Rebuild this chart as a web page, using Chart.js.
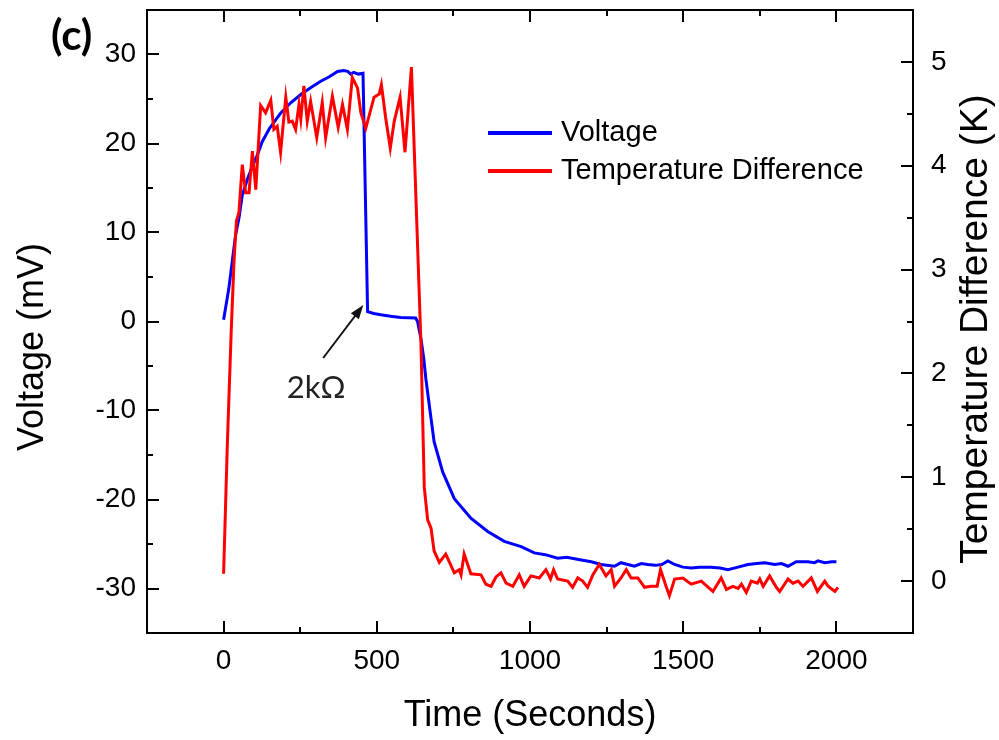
<!DOCTYPE html>
<html lang="en">
<head>
<meta charset="UTF-8">
<title>Voltage and Temperature Difference</title>
<script src="https://cdn.jsdelivr.net/npm/chart.js"></script>
<style>
  html, body { margin: 0; padding: 0; background: #fff; }
  #wrap { width: 999px; height: 740px; position: relative; }
</style>
</head>
<body>
<div id="wrap"><canvas id="chart"></canvas></div>
<script>
// Voltage (mV), left axis
const voltageTime = [0, 17, 28, 39, 50, 61, 80, 95, 110, 126, 150, 186, 220, 252, 285, 317, 345, 372, 392, 405, 415, 425, 440, 455,
  470, 490, 513, 545, 578, 627, 633, 644, 653, 660, 674, 687, 715, 753, 807, 862, 916, 971, 1014, 1050, 1090, 1120, 1167, 1200,
  1232, 1276, 1297, 1319, 1341, 1363, 1384, 1410, 1430, 1450, 1472, 1499, 1526, 1553, 1591, 1620, 1646, 1679, 1711, 1740, 1766,
  1799, 1821, 1842, 1869, 1907, 1929, 1940, 1962, 1985, 2000];
const voltageValues = [0.2, 3.7, 6.7, 9.7, 11.6, 14.2, 16.2, 17.5, 18.7, 20.2, 21.7, 23.4, 24.6, 25.5, 26.3, 27.0, 27.5, 28.1, 28.2, 28.1, 27.8, 28.0, 27.8, 27.9,
  1.1, 0.9, 0.75, 0.6, 0.45, 0.4, 0.0, -1.9, -4.1, -6.4, -10.1, -13.5, -16.9, -19.9, -22.1, -23.6, -24.7, -25.3, -26.0, -26.2, -26.6, -26.5, -26.8, -27.0,
  -27.3, -27.5, -27.1, -27.3, -27.5, -27.2, -27.3, -27.4, -27.3, -26.9, -27.3, -27.6, -27.7, -27.6, -27.6, -27.7, -27.9, -27.6, -27.3, -27.2, -27.1,
  -27.3, -27.2, -27.5, -27.0, -27.0, -27.1, -26.9, -27.1, -27.0, -27.0];

// Temperature Difference (K), right axis
const tempTime = [0, 12, 25, 34, 42, 50, 61, 72, 83, 94, 105, 121, 137, 154, 164, 175, 186, 203, 213, 224, 235, 246, 252, 262, 273,
  284, 304, 322, 333, 355, 374, 388, 404, 420, 437, 448, 464, 491, 508, 515, 529, 544, 557, 576, 592, 613, 644, 655, 666, 677,
  687, 704, 725, 753, 769, 775, 785, 807, 840, 856, 873, 889, 905, 922, 944, 965, 981, 1003, 1030, 1052, 1067, 1077, 1090, 1123,
  1139, 1156, 1172, 1188, 1205, 1226, 1248, 1265, 1276, 1297, 1314, 1330, 1352, 1374, 1395, 1415, 1426, 1444, 1455, 1472, 1499,
  1526, 1559, 1597, 1624, 1641, 1662, 1679, 1690, 1706, 1722, 1742, 1750, 1761, 1782, 1804, 1815, 1842, 1858, 1875, 1891, 1918,
  1938, 1962, 1973, 1995, 2005];
const tempValues = [0.07, 1.3, 2.42, 3.08, 3.47, 3.55, 4.01, 3.74, 3.74, 4.14, 3.77, 4.58, 4.51, 4.63, 4.35, 4.38, 4.13, 4.66, 4.42, 4.43, 4.35, 4.59, 4.45, 4.77, 4.43,
  4.62, 4.27, 4.61, 4.27, 4.67, 4.37, 4.59, 4.35, 4.85, 4.75, 4.51, 4.36, 4.66, 4.69, 4.78, 4.46, 4.17, 4.43, 4.66, 4.13, 4.95, 2.3, 0.9, 0.59, 0.51,
  0.29, 0.18, 0.26, 0.08, 0.11, 0.06, 0.26, 0.07, 0.06, -0.03, -0.05, 0.04, 0.08, -0.02, -0.05, 0.06, -0.05, 0.05, 0.03, 0.11, 0.02, 0.11, 0.02, 0.0,
  -0.06, 0.03, 0.0, -0.06, 0.06, 0.16, 0.05, 0.11, -0.05, 0.03, 0.11, 0.03, 0.03, -0.06, -0.05, -0.05, 0.11, -0.05, -0.14, 0.02, 0.03,
  -0.03, 0.0, -0.10, 0.03, -0.08, -0.05, -0.07, -0.03, -0.11, 0.0, -0.02, 0.02, -0.05, 0.05, -0.06, -0.10, 0.02, -0.02, 0.0, -0.05, 0.03,
  -0.10, 0.0, -0.05, -0.10, -0.06];

// tick marks
const xTicks = [0, 500, 1000, 1500, 2000];
const xMinor = [250, 750, 1250, 1750];
const voltTicks = [-30, -20, -10, 0, 10, 20, 30];
const voltMinor = [-25, -15, -5, 5, 15, 25];
const tempTicks = [0, 1, 2, 3, 4, 5];
const tempMinor = [0.5, 1.5, 2.5, 3.5, 4.5];

const FONT = '"Liberation Sans", Arial, sans-serif';

const toPoints = (xs, ys) => xs.map((x, i) => ({x: x, y: ys[i]}));

// no auto padding from labels, fixed box sizes
const fixBox = size => s => {
    if (s.isHorizontal()) { s.height = size; } else { s.width = size; }
    s.paddingTop = 0; s.paddingBottom = 0; s.paddingLeft = 0; s.paddingRight = 0;
};

// frame, inward ticks, y titles, legend, annotation
const decorations = {
    id: 'decorations',
    afterDraw(chart) {
        const {ctx, chartArea: a, scales} = chart;
        ctx.save();
        ctx.strokeStyle = '#000';
        ctx.lineWidth = 2;
        ctx.strokeRect(a.left, a.top, a.right - a.left, a.bottom - a.top);

        ctx.beginPath();
        const xt = (v, len) => {
            const px = Math.round(scales.x.getPixelForValue(v));
            ctx.moveTo(px, a.bottom); ctx.lineTo(px, a.bottom - len);
            ctx.moveTo(px, a.top); ctx.lineTo(px, a.top + len);
        };
        xTicks.forEach(v => xt(v, 12));
        xMinor.forEach(v => xt(v, 6));
        const lt = (v, len) => {
            const py = Math.round(scales.y.getPixelForValue(v));
            ctx.moveTo(a.left, py); ctx.lineTo(a.left + len, py);
        };
        voltTicks.forEach(v => lt(v, 12));
        voltMinor.forEach(v => lt(v, 6));
        const rt = (v, len) => {
            const py = Math.round(scales.y2.getPixelForValue(v));
            ctx.moveTo(a.right, py); ctx.lineTo(a.right - len, py);
        };
        tempTicks.forEach(v => rt(v, 12));
        tempMinor.forEach(v => rt(v, 6));
        ctx.stroke();

        // y axis titles, both read upward
        ctx.fillStyle = '#000';
        ctx.textAlign = 'center';
        ctx.textBaseline = 'middle';
        [['Voltage (mV)', 33, 347, 36], ['Temperature Difference (K)', 976, 329, 39]].forEach(([t, x, y, size]) => {
            ctx.save();
            ctx.font = size + 'px ' + FONT;
            ctx.translate(x, y);
            ctx.rotate(-Math.PI / 2);
            ctx.fillText(t, 0, 0);
            ctx.restore();
        });

        // legend
        ctx.textAlign = 'left';
        ctx.font = '29px ' + FONT;
        chart.data.datasets.forEach((ds, i) => {
            const y = 133 + i * 38;
            ctx.strokeStyle = ds.borderColor;
            ctx.lineWidth = 4;
            ctx.beginPath();
            ctx.moveTo(488, y); ctx.lineTo(552, y);
            ctx.stroke();
            ctx.fillText(ds.label, 561, y);
        });

        // panel label
        ctx.font = 'bold 42px Lato, sans-serif';
        ctx.fillText('(c)', 51, 36);

        // 2kOhm annotation
        const X = scales.x, Y = scales.y;
        const tx = X.getPixelForValue(325), ty = Y.getPixelForValue(-4.1);
        const hx = X.getPixelForValue(456), hy = Y.getPixelForValue(1.85);
        const ang = Math.atan2(hy - ty, hx - tx);
        ctx.strokeStyle = '#111';
        ctx.fillStyle = '#111';
        ctx.lineWidth = 2;
        ctx.beginPath();
        ctx.moveTo(tx, ty);
        ctx.lineTo(hx - 10 * Math.cos(ang), hy - 10 * Math.sin(ang));
        ctx.stroke();
        ctx.beginPath();
        ctx.moveTo(hx, hy);
        ctx.lineTo(hx - 14 * Math.cos(ang) + 5 * Math.sin(ang), hy - 14 * Math.sin(ang) - 5 * Math.cos(ang));
        ctx.lineTo(hx - 14 * Math.cos(ang) - 5 * Math.sin(ang), hy - 14 * Math.sin(ang) + 5 * Math.cos(ang));
        ctx.closePath();
        ctx.fill();
        ctx.fillStyle = '#222';
        ctx.font = '31px Lato, sans-serif';
        ctx.textAlign = 'center';
        ctx.fillText('2kΩ', X.getPixelForValue(302), Y.getPixelForValue(-7.5));
        ctx.restore();
    }
};

const plainLabel = v => String(v);

new Chart(document.getElementById('chart'), {
    type: 'line',
    data: {
        datasets: [
            {
                label: 'Voltage',
                data: toPoints(voltageTime, voltageValues),
                yAxisID: 'y',
                borderColor: '#0000ff',
                borderWidth: 3,
                pointRadius: 0,
                tension: 0,
                order: 2
            },
            {
                label: 'Temperature Difference',
                data: toPoints(tempTime, tempValues),
                yAxisID: 'y2',
                borderColor: '#ff0000',
                borderWidth: 3,
                pointRadius: 0,
                tension: 0,
                order: 1
            }
        ]
    },
    options: {
        responsive: true,
        maintainAspectRatio: false,
        animation: false,
        devicePixelRatio: 1,
        layout: { padding: { top: 10, left: 0, right: 0, bottom: 0 } },
        plugins: { legend: { display: false }, tooltip: { enabled: false } },
        scales: {
            x: {
                type: 'linear',
                min: -250,
                max: 2250,
                afterBuildTicks: s => { s.ticks = xTicks.map(v => ({value: v})); },
                afterFit: fixBox(107),
                grid: { display: false, drawTicks: false },
                border: { display: false },
                ticks: { color: '#000', padding: 11, callback: plainLabel, font: { family: FONT, size: 28 } },
                title: { display: true, text: 'Time (Seconds)', color: '#000', padding: { top: 0, bottom: 2 }, font: { family: FONT, size: 36 } }
            },
            y: {
                position: 'left',
                min: -35,
                max: 35,
                afterBuildTicks: s => { s.ticks = voltTicks.map(v => ({value: v})); },
                afterFit: fixBox(147),
                grid: { display: false, drawTicks: false },
                border: { display: false },
                ticks: { color: '#000', padding: 11, callback: plainLabel, font: { family: FONT, size: 28 } }
            },
            y2: {
                position: 'right',
                min: -0.5,
                max: 5.5,
                afterBuildTicks: s => { s.ticks = tempTicks.map(v => ({value: v})); },
                afterFit: fixBox(86),
                grid: { display: false, drawTicks: false },
                border: { display: false },
                ticks: { color: '#000', padding: 18, callback: plainLabel, font: { family: FONT, size: 28 } }
            }
        }
    },
    plugins: [decorations]
});
</script>
</body>
</html>
